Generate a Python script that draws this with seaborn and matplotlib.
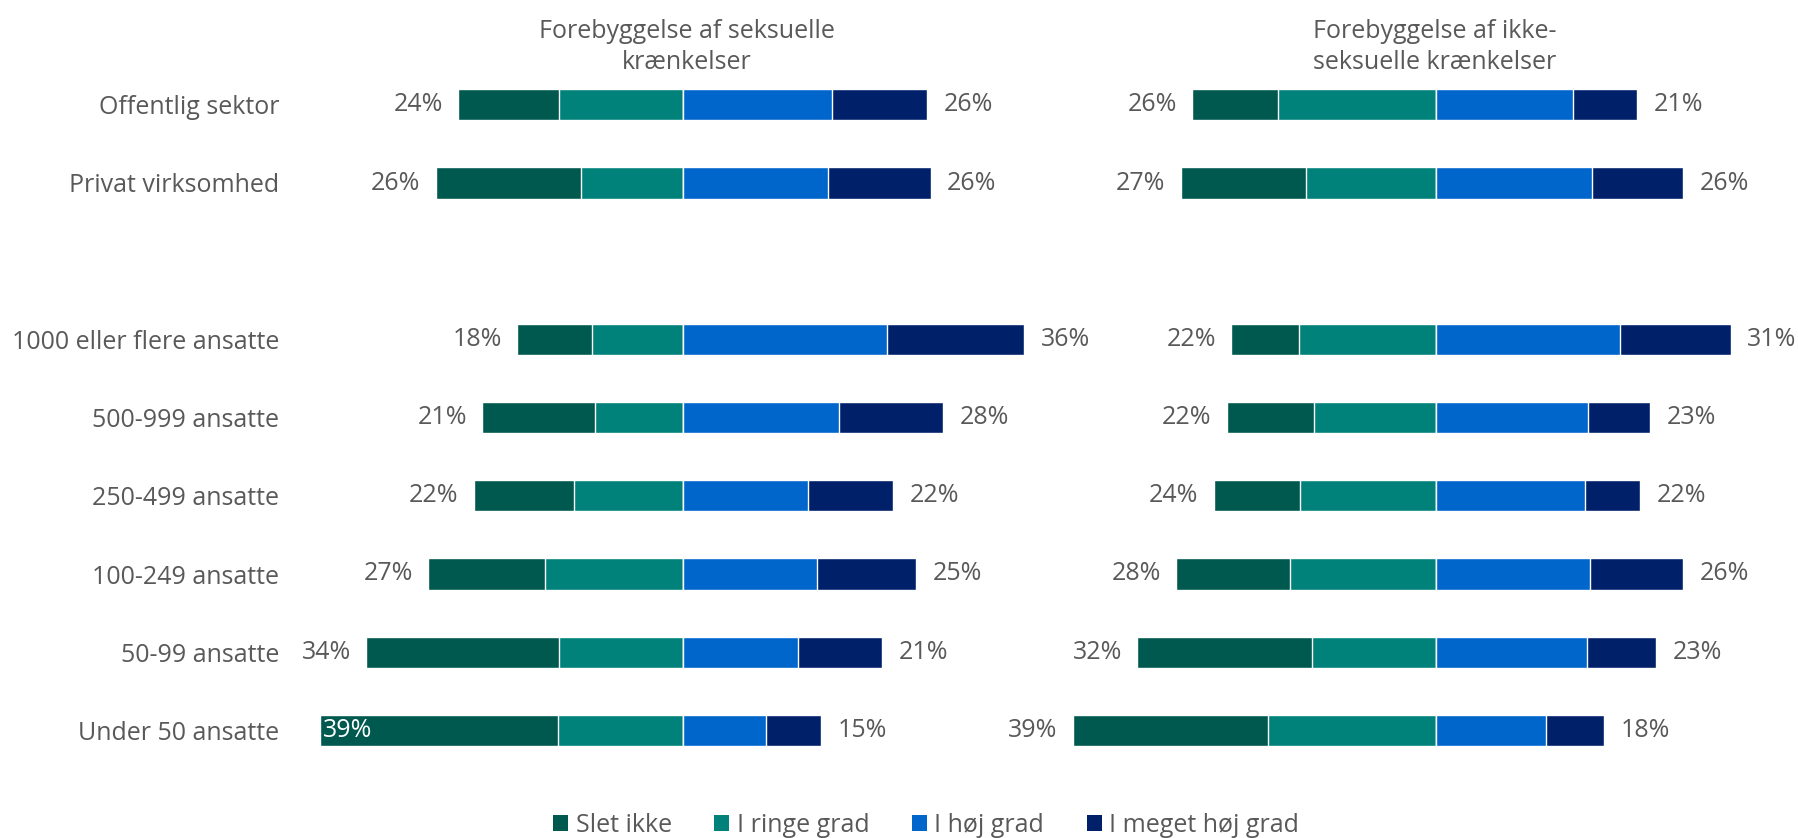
import matplotlib
matplotlib.use("Agg")
import matplotlib.pyplot as plt
from matplotlib.patches import Patch
import numpy as np
import pandas as pd
import seaborn as sns

# Row labels (an empty string leaves a spacer row between the two groups)
categories = [
    "Offentlig sektor",
    "Privat virksomhed",
    "",
    "1000 eller flere ansatte",
    "500-999 ansatte",
    "250-499 ansatte",
    "100-249 ansatte",
    "50-99 ansatte",
    "Under 50 ansatte",
]
rows = [c for c in categories if c]

levels = ["Slet ikke", "I ringe grad", "I høj grad", "I meget høj grad"]
colors = ["#00594F", "#00827A", "#0066CC", "#002169"]

panel_titles = [
    "Forebyggelse af seksuelle\nkrænkelser",
    "Forebyggelse af ikke-\nseksuelle krænkelser",
]

# Shares in percent, one list per answer level, in the order of `rows`
sex_slet = [10.8, 15.5, 8.0, 12.0, 10.7, 12.5, 20.6, 25.4]
sex_ringe = [13.2, 10.9, 9.7, 9.4, 11.6, 14.7, 13.2, 13.3]
sex_hoej = [15.9, 15.5, 21.8, 16.6, 13.3, 14.3, 12.3, 8.9]
sex_meget = [10.1, 10.9, 14.6, 11.1, 9.1, 10.6, 8.9, 5.8]

non_slet = [9.1, 13.3, 7.2, 9.3, 9.2, 12.1, 18.6, 20.8]
non_ringe = [16.9, 13.9, 14.6, 13.0, 14.5, 15.6, 13.2, 17.9]
non_hoej = [14.5, 16.6, 19.5, 16.1, 15.8, 16.3, 16.0, 11.7]
non_meget = [6.8, 9.6, 11.8, 6.6, 5.9, 9.9, 7.4, 6.1]

panels = [
    (sex_slet, sex_ringe, sex_hoej, sex_meget),
    (non_slet, non_ringe, non_hoej, non_meget),
]

sns.set_theme(style="white")
plt.rcParams["font.family"] = ["Open Sans", "DejaVu Sans"]
text_color = "#595959"
FS = 18

W, H = 1798, 838
fig = plt.figure(figsize=(W / 100, H / 100), dpi=100)

# Axes geometry in pixels: (left, right, centre, px per percent)
geoms = [(300, 1060, 683, 9.375), (1060, 1798, 1436.4, 9.40)]
title_x = [687, 1435]
ax_top, ax_bot = 60, 770
row0, row_step = 104.8, 78.2

for i, (vals, (x0, x1, xc, scale)) in enumerate(zip(panels, geoms)):
    ax = fig.add_axes([x0 / W, 1 - ax_bot / H, (x1 - x0) / W, (ax_bot - ax_top) / H])
    ax.patch.set_alpha(0)
    slet, ringe, hoej, meget = [np.array(v) for v in vals]
    df = pd.DataFrame({
        "row": rows,
        "left_outer": -(slet + ringe),
        "left_inner": -ringe,
        "right_outer": hoej + meget,
        "right_inner": hoej,
    })
    layers = [
        ("left_outer", colors[0]),
        ("left_inner", colors[1]),
        ("right_outer", colors[3]),
        ("right_inner", colors[2]),
    ]
    for col, colr in layers:
        sns.barplot(data=df, x=col, y="row", order=categories, orient="h",
                    color=colr, saturation=1, width=0.4, errorbar=None,
                    edgecolor="white", linewidth=1.0, ax=ax)

    ax.set_xlim(-(xc - x0) / scale, (x1 - xc) / scale)
    ax.set_ylim((ax_bot - row0) / row_step, (ax_top - row0) / row_step)
    ax.set_xlabel("")
    ax.set_ylabel("")
    ax.set_xticks([])
    for s in ax.spines.values():
        s.set_visible(False)

    if i == 0:
        ax.tick_params(axis="y", length=0, pad=15, labelsize=FS, labelcolor=text_color)
    else:
        ax.set_yticks([])

    # Totals on each side of the centre line
    ypos = [categories.index(r) for r in rows]
    for y, lt, rt in zip(ypos, slet + ringe, hoej + meget):
        if i == 0 and lt > 37:
            ax.annotate(f"{round(lt)}%", (-lt, y), xytext=(2, 0), textcoords="offset points",
                        ha="left", va="center", fontsize=FS, color="white")
        else:
            ax.annotate(f"{round(lt)}%", (-lt, y), xytext=(-11, 0), textcoords="offset points",
                        ha="right", va="center", fontsize=FS, color=text_color)
        ax.annotate(f"{round(rt)}%", (rt, y), xytext=(12, 0), textcoords="offset points",
                    ha="left", va="center", fontsize=FS, color=text_color)

    fig.text(title_x[i] / W, 1 - 47 / H, panel_titles[i], ha="center", va="center",
             fontsize=FS, color=text_color, linespacing=1.3)

handles = [Patch(facecolor=c, edgecolor="none", label=l) for c, l in zip(colors, levels)]
fig.legend(handles=handles, loc="center", bbox_to_anchor=(926 / W, 1 - 825 / H), ncol=4,
           frameon=False, fontsize=FS, labelcolor=text_color, handlelength=0.6,
           handleheight=0.6, handletextpad=0.3, columnspacing=1.7, borderaxespad=0)

fig.savefig("out.png", dpi=100, facecolor="white")
